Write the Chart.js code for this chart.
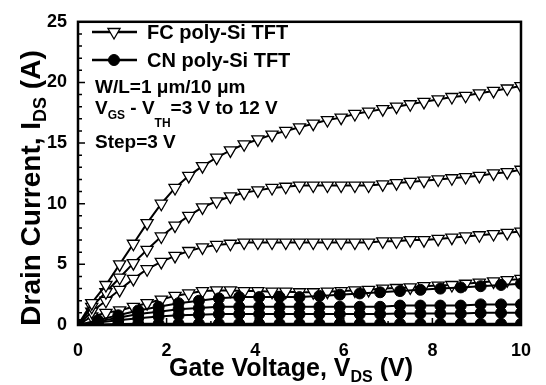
<!DOCTYPE html>
<html><head><meta charset="utf-8">
<script src="https://cdn.jsdelivr.net/npm/chart.js@4/dist/chart.umd.min.js"></script>
<style>html,body{margin:0;padding:0;background:#fff}#wrap{width:546px;height:385px}</style>
</head><body><div id="wrap"><canvas id="c" width="546" height="385"></canvas></div>
<script>
// ---- data ----
const vdsFC = [0, 0.31, 0.63, 0.94, 1.25, 1.56, 1.88, 2.19, 2.5, 2.81, 3.13, 3.44, 3.75, 4.06, 4.38, 4.69, 5, 5.31, 5.63, 5.94, 6.25, 6.56, 6.88, 7.19, 7.5, 7.81, 8.13, 8.44, 8.75, 9.06, 9.38, 9.69, 10];
const fc12 = [0, 1.8, 3.3, 5.0, 6.7, 8.4, 10.0, 11.3, 12.3, 13.1, 13.8, 14.4, 14.9, 15.3, 15.7, 16.0, 16.3, 16.6, 16.9, 17.1, 17.4, 17.6, 17.8, 18.0, 18.2, 18.4, 18.6, 18.8, 18.9, 19.1, 19.3, 19.5, 19.7];
const fc9 = [0, 1.5, 2.7, 3.9, 5.1, 6.2, 7.3, 8.2, 9.0, 9.7, 10.2, 10.6, 10.9, 11.1, 11.3, 11.4, 11.5, 11.5, 11.5, 11.5, 11.5, 11.5, 11.6, 11.7, 11.8, 11.9, 12.0, 12.1, 12.2, 12.3, 12.5, 12.6, 12.8];
const fc6 = [0, 1.1, 2.0, 2.9, 3.8, 4.6, 5.2, 5.7, 6.1, 6.4, 6.6, 6.7, 6.8, 6.8, 6.8, 6.8, 6.8, 6.8, 6.8, 6.8, 6.8, 6.8, 6.9, 6.9, 7.0, 7.0, 7.1, 7.2, 7.3, 7.4, 7.5, 7.6, 7.7];
const fc3 = [0, 0.7, 1.0, 1.2, 1.5, 1.8, 2.1, 2.4, 2.6, 2.8, 2.85, 2.85, 2.8, 2.8, 2.75, 2.75, 2.7, 2.7, 2.75, 2.8, 2.85, 2.9, 3.0, 3.05, 3.1, 3.2, 3.25, 3.3, 3.4, 3.5, 3.6, 3.7, 3.8];
const vdsCN = [0, 0.45, 0.91, 1.36, 1.82, 2.27, 2.73, 3.18, 3.64, 4.09, 4.55, 5, 5.45, 5.91, 6.36, 6.82, 7.27, 7.73, 8.18, 8.64, 9.09, 9.55, 10];
const cn12 = [0, 0.4, 0.8, 1.2, 1.5, 1.8, 2.0, 2.2, 2.3, 2.3, 2.3, 2.3, 2.4, 2.5, 2.6, 2.7, 2.8, 2.9, 3.0, 3.1, 3.2, 3.3, 3.4];
const cn9 = [0, 0.3, 0.6, 0.9, 1.1, 1.3, 1.4, 1.5, 1.5, 1.5, 1.5, 1.5, 1.5, 1.5, 1.5, 1.5, 1.6, 1.6, 1.6, 1.6, 1.7, 1.7, 1.7];
const cn6 = [0, 0.2, 0.4, 0.55, 0.7, 0.8, 0.85, 0.9, 0.9, 0.9, 0.9, 0.9, 0.9, 0.9, 0.9, 0.9, 0.95, 0.95, 0.95, 0.95, 1.0, 1.0, 1.0];
const cn3 = [0, 0.05, 0.08, 0.1, 0.1, 0.1, 0.1, 0.1, 0.1, 0.1, 0.1, 0.1, 0.1, 0.1, 0.1, 0.1, 0.1, 0.1, 0.1, 0.1, 0.1, 0.1, 0.1];
const xTicks = [0, 2, 4, 6, 8, 10];
const yTicks = [0, 5, 10, 15, 20, 25];
const legendLabels = ['FC poly-Si TFT', 'CN poly-Si TFT'];

const FONT = "'Liberation Sans', Arial, sans-serif";
const pts = (xs, ys) => xs.map((x, i) => ({x, y: ys[i]}));

function fcSet(ys) {
  return {data: pts(vdsFC, ys), showLine: true, borderColor: '#000', borderWidth: 2, pointStyle: 'triangle', rotation: 180,
    pointRadius: 7, pointBackgroundColor: '#fff', pointBorderColor: '#000', pointBorderWidth: 1.3, tension: 0, order: 2};
}
function cnSet(ys) {
  return {data: pts(vdsCN, ys), showLine: true, borderColor: '#000', borderWidth: 2, pointStyle: 'circle',
    pointRadius: 5.5, pointBackgroundColor: '#000', pointBorderColor: '#000', pointBorderWidth: 1, tension: 0, order: 1};
}

function drawRich(ctx, x, y, parts, size) {
  let cx = x;
  for (const p of parts) {
    const fs = p.sub ? Math.round(size * 0.65) : size;
    ctx.font = `bold ${fs}px ${FONT}`;
    ctx.fillText(p.t, cx, y + (p.dy || 0));
    cx += ctx.measureText(p.t).width;
  }
  return cx - x;
}
function richWidth(ctx, parts, size) {
  let w = 0;
  for (const p of parts) {
    const fs = p.sub ? Math.round(size * 0.65) : size;
    ctx.font = `bold ${fs}px ${FONT}`;
    w += ctx.measureText(p.t).width;
  }
  return w;
}

const decor = {
  id: 'decor',
  afterDatasetsDraw(chart) {
    const ctx = chart.ctx, a = chart.chartArea, xs = chart.scales.x, ys = chart.scales.y;
    ctx.save();
    ctx.strokeStyle = '#000';
    ctx.lineWidth = 2.5;
    ctx.strokeRect(a.left, a.top, a.right - a.left, a.bottom - a.top);
    ctx.lineWidth = 1.5;
    ctx.beginPath();
    for (let v = 0; v <= 25; v++) {
      const y = ys.getPixelForValue(v);
      const len = v % 5 === 0 ? 7 : 4;
      ctx.moveTo(a.left, y); ctx.lineTo(a.left + len, y);
    }
    for (let v = 0; v <= 10; v++) {
      const x = xs.getPixelForValue(v);
      const len = v % 2 === 0 ? 7 : 4;
      ctx.moveTo(x, a.bottom); ctx.lineTo(x, a.bottom - len);
    }
    ctx.stroke();

    // legend
    ctx.fillStyle = '#000';
    ctx.textBaseline = 'alphabetic';
    ctx.textAlign = 'left';
    const rows = [{y: 32, ds: chart.data.datasets[4]}, {y: 60, ds: chart.data.datasets[0]}];
    rows.forEach((r, i) => {
      ctx.strokeStyle = '#000';
      ctx.lineWidth = 2.5;
      ctx.beginPath(); ctx.moveTo(92, r.y); ctx.lineTo(137, r.y); ctx.stroke();
      ctx.fillStyle = r.ds.pointBackgroundColor;
      ctx.lineWidth = r.ds.pointBorderWidth;
      Chart.helpers.drawPoint(ctx, {pointStyle: r.ds.pointStyle, rotation: r.ds.rotation || 0, radius: r.ds.pointRadius, borderWidth: r.ds.pointBorderWidth}, 114, r.y);
      ctx.fillStyle = '#000';
      ctx.font = `bold 20px ${FONT}`;
      ctx.fillText(legendLabels[i], 147, r.y + 7);
    });

    // annotations
    ctx.font = `bold 19px ${FONT}`;
    ctx.fillText('W/L=1 \u03BCm/10 \u03BCm', 95, 93);
    drawRich(ctx, 95, 114, [{t: 'V'}, {t: 'GS', sub: true, dy: 5}, {t: ' - V'}, {t: 'TH', sub: true, dy: 13}, {t: '=3 V to 12 V'}], 19);
    ctx.font = `bold 19px ${FONT}`;
    ctx.fillText('Step=3 V', 95, 148);

    // axis titles
    const xt = [{t: 'Gate Voltage, V'}, {t: 'DS', sub: true, dy: 6}, {t: ' (V)'}];
    const xw = richWidth(ctx, xt, 25);
    drawRich(ctx, 291 - xw / 2, 376, xt, 25);
    const yt = [{t: 'Drain Current, I'}, {t: 'DS', sub: true, dy: 6}, {t: ' (A)'}];
    ctx.save();
    ctx.translate(40, 188);
    ctx.rotate(-Math.PI / 2);
    const yw = richWidth(ctx, yt, 28);
    drawRich(ctx, -yw / 2, 0, yt, 28);
    ctx.restore();
    ctx.restore();
  }
};

new Chart(document.getElementById('c'), {
  type: 'scatter',
  data: {datasets: [
    cnSet(cn12), cnSet(cn9), cnSet(cn6), cnSet(cn3),
    fcSet(fc12), fcSet(fc9), fcSet(fc6), fcSet(fc3)
  ]},
  options: {
    responsive: false, animation: false, devicePixelRatio: 1,
    layout: {padding: {top: 17, right: 18, left: 0, bottom: 0}},
    plugins: {legend: {display: false}, tooltip: {enabled: false}},
    scales: {
      x: {type: 'linear', min: 0, max: 10, grid: {display: false, drawTicks: false}, border: {display: false},
        afterBuildTicks: s => { s.ticks = xTicks.map(v => ({value: v})); },
        ticks: {padding: 15, color: '#000', font: {family: FONT, size: 18, weight: 'bold'}},
        afterFit: s => { s.height = 60; }},
      y: {type: 'linear', min: 0, max: 25, grid: {display: false, drawTicks: false}, border: {display: false},
        afterBuildTicks: s => { s.ticks = yTicks.map(v => ({value: v})); },
        ticks: {padding: 11, color: '#000', font: {family: FONT, size: 18, weight: 'bold'}},
        afterFit: s => { s.width = 78; }}
    }
  },
  plugins: [decor]
});
</script></body></html>
